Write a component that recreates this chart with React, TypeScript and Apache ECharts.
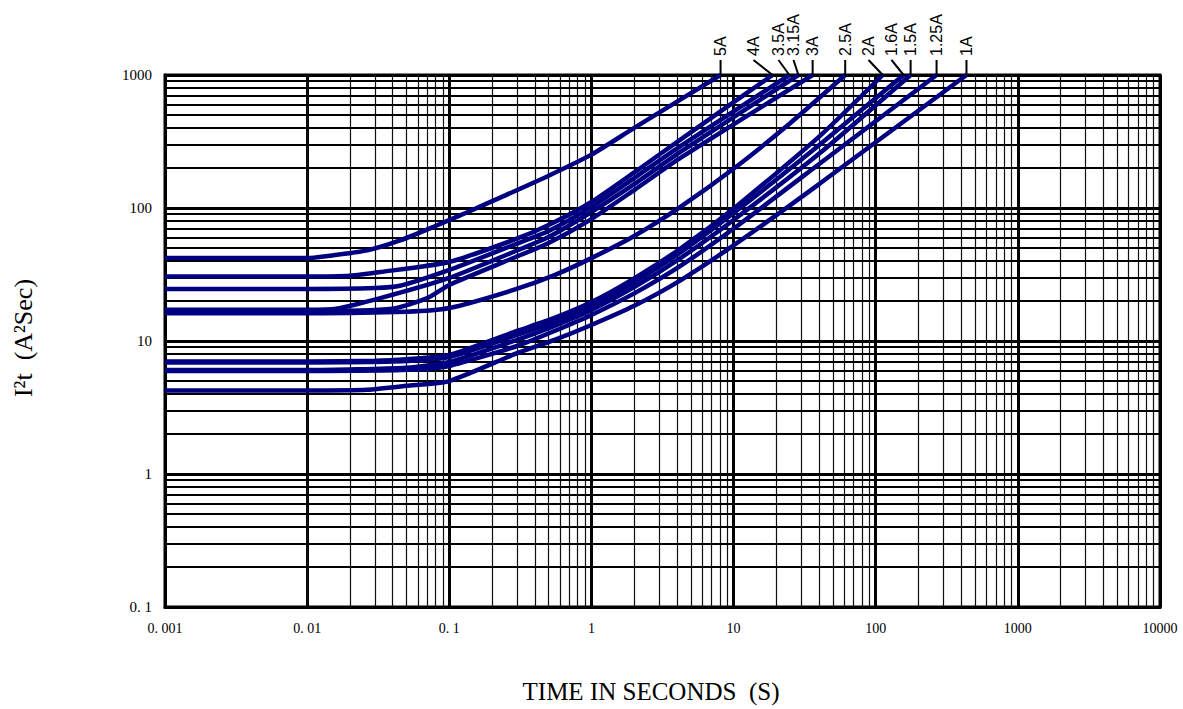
import React, { useEffect, useRef } from "react";
import * as echarts from "echarts";

// ---- data (time in seconds, I²t in A²s) ----
const curveNames = ["5A", "4A", "3.5A", "3.15A", "3A", "2.5A", "2A", "1.6A", "1.5A", "1.25A", "1A"];

const c5A = [[0.001, 42], [0.01, 42], [0.015, 44], [0.0265, 48], [0.045, 57], [0.077, 72], [0.134, 93], [0.25, 125], [0.5, 175], [1, 252], [2.0, 400], [8.1, 1000]];
const c4A = [[0.001, 30.6], [0.01, 30.6], [0.02, 31], [0.0327, 33], [0.1, 39.3], [0.283, 57.5], [0.5, 74.5], [1, 111], [2.0, 185], [4.23, 327], [18.8, 1000]];
const c3_5A = [[0.001, 24.6], [0.01, 24.6], [0.03, 25], [0.045, 26], [0.1, 34.2], [0.283, 52.7], [0.5, 67.2], [1, 102], [2.0, 168], [4.23, 292], [24.7, 1000]];
const c3_15A = [[0.001, 17.2], [0.01, 17.2], [0.016, 17.5], [0.0327, 21], [0.1, 29.8], [0.283, 46.7], [0.5, 60.5], [1, 93.3], [2.0, 151], [4.23, 264], [28.6, 1000]];
const c3A = [[0.001, 16.8], [0.01, 16.8], [0.04, 17.5], [0.07, 21], [0.1, 26.4], [0.283, 42.1], [0.5, 54.6], [1, 82.6], [2.0, 136.5], [4.23, 238], [36, 1000]];
const c2_5A = [[0.001, 16.2], [0.01, 16.2], [0.05, 16.6], [0.1, 17.7], [0.283, 24.2], [0.55, 31.3], [1, 42], [2.0, 61.6], [4.23, 102], [10.6, 207], [25.1, 436], [61, 1000]];
const c2A = [[0.001, 7.0], [0.01, 7.0], [0.03, 7.1], [0.05, 7.3], [0.1, 7.85], [0.3, 11.9], [0.55, 14.9], [1, 19.6], [2.0, 29.6], [4.23, 49.6], [10.6, 104], [40.9, 352], [112, 1000]];
const c1_6A = [[0.001, 6.9], [0.01, 6.9], [0.04, 7.0], [0.1, 7.58], [0.3, 11.1], [0.55, 13.9], [1, 18.3], [2.0, 27.6], [4.23, 46.3], [10.6, 96.1], [40.9, 303], [157, 1000]];
const c1_5A = [[0.001, 6.05], [0.01, 6.05], [0.05, 6.3], [0.1, 6.95], [0.3, 10.2], [0.55, 13], [1, 17.1], [2.0, 25.4], [4.23, 42], [10.6, 85.3], [40.9, 261], [176, 1000]];
const c1_25A = [[0.001, 5.95], [0.01, 5.95], [0.06, 6.1], [0.1, 6.49], [0.3, 9.17], [0.55, 11.9], [1, 15.7], [2.0, 22.8], [4.23, 36.7], [10.6, 73.2], [40.9, 218], [268, 1000]];
const c1A = [[0.001, 4.25], [0.01, 4.25], [0.0265, 4.3], [0.05, 4.6], [0.1, 5.0], [0.3, 8.1], [0.55, 10.2], [1, 13.2], [2.0, 18.4], [4.23, 28.6], [10.6, 54.7], [40.9, 154], [435, 1000]];

const curveData = [c5A, c4A, c3_5A, c3_15A, c3A, c2_5A, c2A, c1_6A, c1_5A, c1_25A, c1A];

// x value (seconds) where each label's leader line starts, above the chart
const labelAnchorX = [8.1, 13.8, 20.7, 26.4, 36, 61, 89, 129, 176, 268, 435];
const labelAnchorY = 1297;

const xTickLabels = ["0. 001", "0. 01", "0. 1", "1", "10", "100", "1000", "10000"];
const yTickLabels = ["0. 1", "1", "10", "100", "1000"];
const xDecades = [-3, -2, -1, 0, 1, 2, 3];
const yDecades = [-1, 0, 1, 2];
const minorMultipliers = [2, 3, 4, 5, 6, 7, 8, 9];

const minorX = xDecades.flatMap((d) => minorMultipliers.map((m) => m * Math.pow(10, d)));
const minorY = yDecades.flatMap((d) => minorMultipliers.map((m) => m * Math.pow(10, d)));

const CURVE_COLOR = "#000080";

const titleGraphics: any[] = [
  {
    type: "text",
    x: 651,
    y: 691,
    style: {
      text: "TIME IN SECONDS  (S)",
      font: "25px 'Liberation Serif'",
      fill: "#000",
      align: "center",
      verticalAlign: "middle",
    },
  },
  {
    type: "text",
    x: 23,
    y: 338,
    rotation: Math.PI / 2,
    style: {
      text: "I²t  (A²Sec)",
      font: "26px 'Liberation Serif'",
      fill: "#000",
      align: "center",
      verticalAlign: "middle",
    },
  },
];

function buildOption() {
  const series: any[] = [];
  series.push({
    type: "line",
    data: [],
    z: 1,
    silent: true,
    markLine: {
      silent: true,
      symbol: ["none", "none"],
      label: { show: false },
      lineStyle: { color: "#111", width: 1.2, type: "solid" },
      data: minorX.map((v) => ({ xAxis: v })),
    },
  });
  series.push({
    type: "line",
    data: [],
    z: 1,
    silent: true,
    markLine: {
      silent: true,
      symbol: ["none", "none"],
      label: { show: false },
      lineStyle: { color: "#000", width: 1.8, type: "solid" },
      data: minorY.map((v) => ({ yAxis: v })),
    },
  });
  curveNames.forEach((name, i) => {
    const d = curveData[i];
    series.push({
      name,
      type: "line",
      data: d,
      z: 5,
      symbol: "none",
      smooth: 0.2,
      lineStyle: { color: CURVE_COLOR, width: 4.5 },
      silent: true,
    });
    const end = d[d.length - 1];
    series.push({
      name: name + "-leader",
      type: "line",
      clip: false,
      z: 6,
      symbol: "none",
      silent: true,
      lineStyle: { color: "#000", width: 2 },
      data: [
        [end[0], end[1]],
        [labelAnchorX[i], labelAnchorY],
      ],
    });
  });

  return {
    animation: false,
    backgroundColor: "#fff",
    grid: {
      left: 165,
      right: 23,
      top: 75,
      bottom: 102,
      show: true,
      borderColor: "#000",
      borderWidth: 3,
      containLabel: false,
    },
    xAxis: {
      type: "log",
      logBase: 10,
      min: 0.001,
      max: 10000,
      interval: 1,
      axisLine: { show: true, lineStyle: { color: "#000", width: 3 } },
      axisTick: { show: false },
      splitLine: { show: true, lineStyle: { color: "#000", width: 3 } },
      axisLabel: {
        margin: 14,
        fontFamily: "Liberation Serif",
        fontSize: 14,
        color: "#000",
        showMinLabel: true,
        showMaxLabel: true,
        formatter: (v: number) => xTickLabels[Math.round(Math.log10(v)) + 3] ?? "",
      },
    },
    yAxis: {
      type: "log",
      logBase: 10,
      min: 0.1,
      max: 1000,
      interval: 1,
      axisLine: { show: true, lineStyle: { color: "#000", width: 3 } },
      axisTick: { show: false },
      splitLine: { show: true, lineStyle: { color: "#000", width: 3 } },
      axisLabel: {
        margin: 13,
        fontFamily: "Liberation Serif",
        fontSize: 15,
        color: "#000",
        showMinLabel: true,
        showMaxLabel: true,
        formatter: (v: number) => yTickLabels[Math.round(Math.log10(v)) + 1] ?? "",
      },
    },
    graphic: titleGraphics,
    series,
  };
}

export default function App() {
  const ref = useRef<HTMLDivElement>(null);
  useEffect(() => {
    if (!ref.current) return;
    const chart = echarts.init(ref.current, null, { renderer: "svg" });
    chart.setOption(buildOption() as any);
    const labelGraphics = curveNames.map((name, i) => {
      const p = chart.convertToPixel({ gridIndex: 0 }, [labelAnchorX[i], labelAnchorY]) as number[];
      return {
        type: "text",
        x: p[0],
        y: p[1] - 4,
        rotation: Math.PI / 2,
        style: {
          text: name,
          font: "16px 'Liberation Sans'",
          fill: "#000",
          align: "left",
          verticalAlign: "middle",
        },
      };
    });
    chart.setOption({ graphic: [...titleGraphics, ...labelGraphics] } as any, { replaceMerge: ["graphic"] } as any);
    return () => chart.dispose();
  }, []);
  return (
    <div
      ref={ref}
      style={{ position: "fixed", left: 0, top: 0, width: 1183, height: 709, background: "#fff" }}
    />
  );
}
